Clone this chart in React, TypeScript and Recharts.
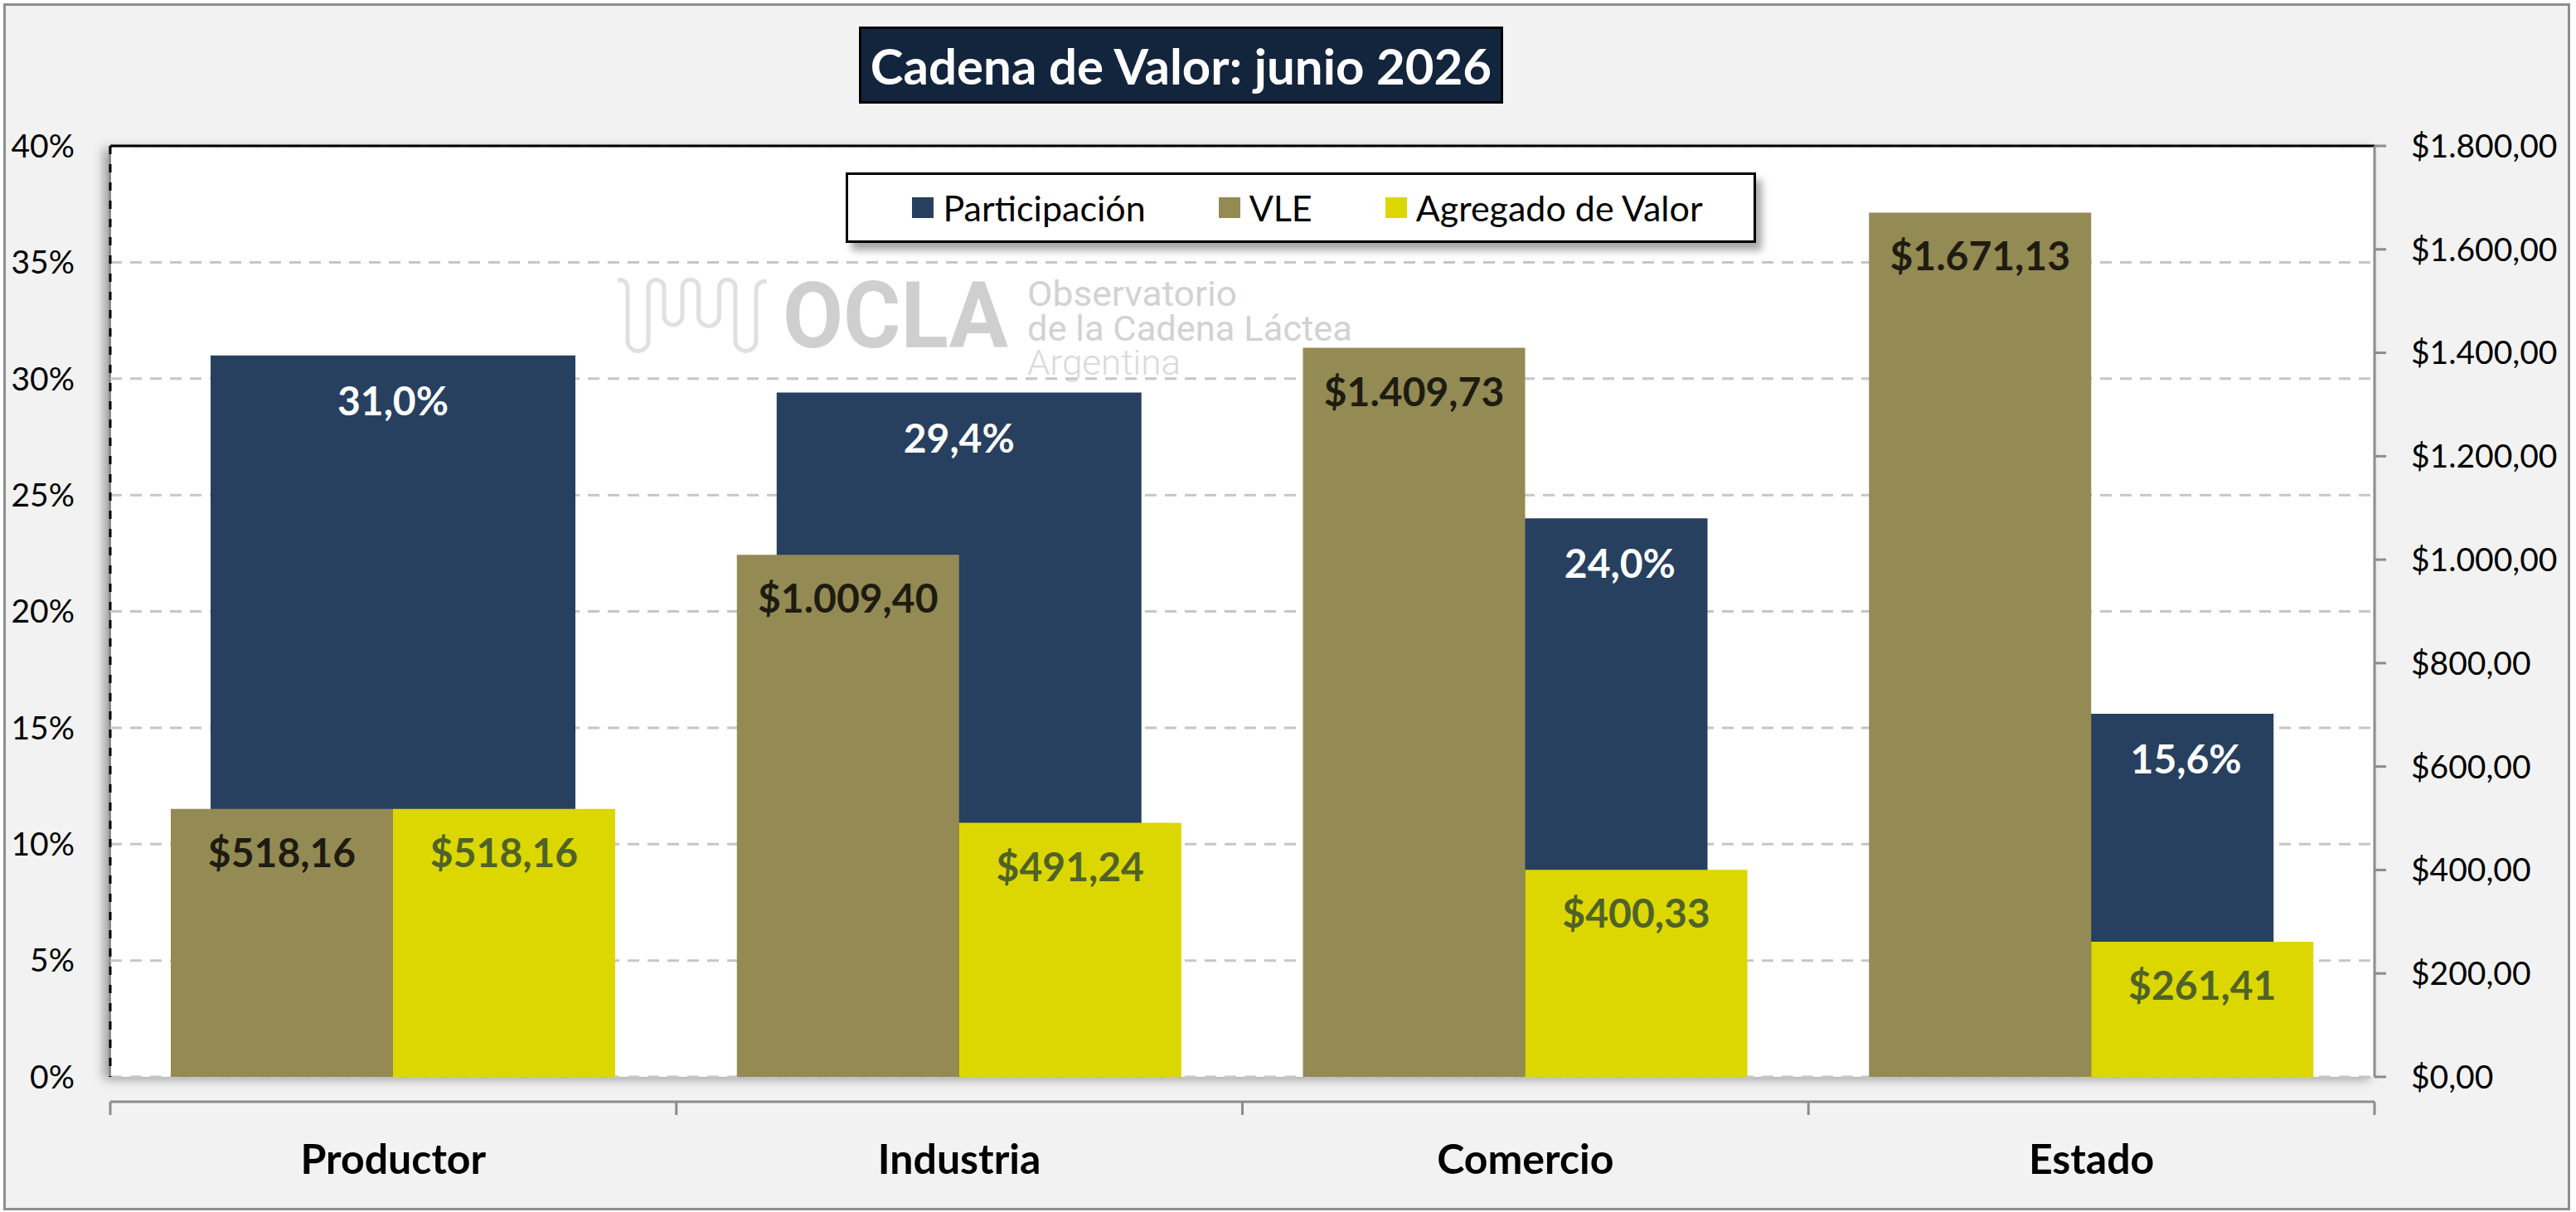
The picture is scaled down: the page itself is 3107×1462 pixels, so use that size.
import React from 'react';
import { BarChart, Bar, XAxis, YAxis, CartesianGrid, Legend, LabelList, ReferenceLine } from 'recharts';

// categories and series
const sectors = ['Productor', 'Industria', 'Comercio', 'Estado'];
const participacion = [31.0, 29.4, 24.0, 15.6]; // %
const vle = [518.16, 1009.4, 1409.73, 1671.13]; // $
const agregado = [518.16, 491.24, 400.33, 261.41]; // $

const seriesNames = ['Participación', 'VLE', 'Agregado de Valor'];
const pctTicks = [0, 5, 10, 15, 20, 25, 30, 35, 40];
const moneyTicks = [0, 200, 400, 600, 800, 1000, 1200, 1400, 1600, 1800];
const PCT_MAX = 40;
const MONEY_MAX = 1800;

const rows = sectors.map((sector, i) => ({
  sector,
  participacion: participacion[i],
  vle: vle[i],
  agregado: agregado[i],
}));

const W = 3107;
const H = 1462;
const LEFT_W = 133;
const RIGHT_W = 243;
const TOP = 176;
const X_H = 163;
const PLOT_W = W - LEFT_W - RIGHT_W;
const PLOT_H = H - TOP - X_H;

const FONT = 'Lato, "Open Sans", sans-serif';

const fmtMoney = (v: number) => {
  const [i, d] = v.toFixed(2).split('.');
  return '$' + i.replace(/\B(?=(\d{3})+(?!\d))/g, '.') + ',' + d;
};
const fmtPct = (v: number) => v.toFixed(1).replace('.', ',') + '%';

const CategoryTick = (props: any) => {
  const { x, y, payload, index } = props;
  const half = PLOT_W / sectors.length / 2;
  return (
    <g>
      <line x1={x - half} x2={x - half} y1={y} y2={y + 16} stroke="#8c8c8c" strokeWidth={3} />
      {index === sectors.length - 1 && (
        <line x1={x + half} x2={x + half} y1={y} y2={y + 16} stroke="#8c8c8c" strokeWidth={3} />
      )}
      <text x={x} y={y + 87} textAnchor="middle" fontFamily={FONT} fontWeight={700} fontSize={50} fill="#000">
        {payload.value}
      </text>
    </g>
  );
};

// share label: centred on the part of the bar that the VLE bar leaves visible
const ParticipacionLabel = (props: any) => {
  const { x, y, width, value } = props;
  const i = props.index ?? participacion.indexOf(Number(value));
  const covered = vle[i] / MONEY_MAX > participacion[i] / PCT_MAX - 0.08;
  const cx = covered ? x + width * 0.76 : x + width / 2;
  return (
    <text x={cx} y={y + 72} textAnchor="middle" fill="#fff" fontSize={48} fontWeight={700} fontFamily={FONT}>
      {fmtPct(Number(value))}
    </text>
  );
};

const LegendBox = ({ payload }: any) => {
  const items = [...(payload || [])].sort(
    (a: any, b: any) => seriesNames.indexOf(a.value) - seriesNames.indexOf(b.value)
  );
  return (
    <div
      style={{
        width: 1098,
        height: 85,
        boxSizing: 'border-box',
        border: '3px solid #000',
        background: '#fff',
        boxShadow: '7px 9px 9px rgba(0,0,0,0.35)',
        display: 'flex',
        alignItems: 'center',
        justifyContent: 'center',
        gap: 88,
        paddingLeft: 16,
        fontFamily: FONT,
        fontSize: 43,
        color: '#000',
      }}
    >
      {items.map((p: any) => (
        <div key={p.value} style={{ display: 'flex', alignItems: 'center', gap: 11 }}>
          <span style={{ width: 26, height: 25, background: p.color, display: 'inline-block' }} />
          <span>{p.value}</span>
        </div>
      ))}
    </div>
  );
};

export default function App() {
  return (
    <div style={{ position: 'relative', width: W, height: H, background: '#fff', fontFamily: FONT }}>
      <style>{'body{margin:0}'}</style>
      {/* outer frame */}
      <div
        style={{
          position: 'absolute',
          left: 4,
          top: 4,
          width: 3096,
          height: 1456,
          boxSizing: 'border-box',
          border: '3px solid #8e8e8e',
          background: '#f2f2f2',
        }}
      />
      {/* plot area background */}
      <div
        style={{
          position: 'absolute',
          left: LEFT_W - 2,
          top: TOP,
          width: PLOT_W + 2,
          height: PLOT_H,
          boxSizing: 'border-box',
          borderLeft: '3px solid #8c8c8c',
          background: '#fff',
          boxShadow: '-6px 3px 12px rgba(0,0,0,0.35)',
        }}
      />
      {/* watermark */}
      <svg width={W} height={H} style={{ position: 'absolute', left: 0, top: 0 }}>
        <path
          d="M 745 338 Q 757 336 757 350 L 757 411 A 12.5 12.5 0 0 0 782 411 L 782 347 A 9.5 9.5 0 0 1 801 347 L 801 381 A 11 11 0 0 0 823 381 L 823 347 A 9.75 9.75 0 0 1 842.5 347 L 842.5 381 A 12.5 12.5 0 0 0 867.5 381 L 867.5 347 A 9.75 9.75 0 0 1 887 347 L 887 411 A 12.5 12.5 0 0 0 912 411 L 912 352 Q 912 339 925 339"
          fill="none"
          stroke="#e0e0e0"
          strokeWidth={5}
        />
        <text x={944} y={419} fontFamily="Roboto, sans-serif" fontWeight={700} fontSize={111} fill="#cfcfcf" textLength={272} lengthAdjust="spacingAndGlyphs">
          OCLA
        </text>
        <text x={1239} y={369} fontFamily="Roboto, sans-serif" fontSize={42} fill="#d2d2d2" textLength={253} lengthAdjust="spacingAndGlyphs">
          Observatorio
        </text>
        <text x={1239} y={411} fontFamily="Roboto, sans-serif" fontSize={42} fill="#d2d2d2" textLength={392} lengthAdjust="spacingAndGlyphs">
          de la Cadena Láctea
        </text>
        <text x={1239} y={452} fontFamily="Roboto, sans-serif" fontWeight={300} fontSize={42} fill="#dadada" textLength={185} lengthAdjust="spacingAndGlyphs">
          Argentina
        </text>
      </svg>
      {/* title */}
      <div
        style={{
          position: 'absolute',
          left: 1036,
          top: 32,
          width: 777,
          height: 93,
          boxSizing: 'border-box',
          border: '3px solid #000',
          background: '#13243d',
          color: '#fff',
          fontFamily: FONT,
          fontWeight: 700,
          fontSize: 60,
          display: 'flex',
          alignItems: 'center',
          justifyContent: 'center',
          whiteSpace: 'nowrap',
        }}
      >
        Cadena de Valor: junio 2026
      </div>
      <div style={{ position: 'absolute', left: 0, top: 0 }}>
        <BarChart
          width={W}
          height={H}
          data={rows}
          margin={{ top: TOP, right: 0, bottom: 0, left: 0 }}
          barGap={0}
          barCategoryGap={0}
        >
          <CartesianGrid
            xAxisId="main"
            yAxisId="left"
            vertical={false}
            stroke="#c6c6c6"
            strokeDasharray="14 10"
            strokeWidth={3}
          />
          <XAxis
            xAxisId="main"
            dataKey="sector"
            height={X_H}
            interval={0}
            tickSize={0}
            tickMargin={0}
            tickLine={false}
            axisLine={{ stroke: '#8c8c8c', strokeWidth: 3 }}
            tick={<CategoryTick />}
          />
          <XAxis xAxisId="back" dataKey="sector" hide />
          <YAxis
            yAxisId="left"
            orientation="left"
            width={LEFT_W}
            domain={[0, PCT_MAX]}
            ticks={pctTicks}
            interval={0}
            tickFormatter={(v: number) => `${v}%`}
            tickSize={0}
            tickMargin={43}
            tickLine={false}
            axisLine={{ stroke: '#000', strokeWidth: 3, strokeDasharray: '10 12' }}
            tick={{ fill: '#000', fontSize: 39, fontFamily: FONT }}
          />
          <YAxis
            yAxisId="right"
            orientation="right"
            width={RIGHT_W}
            domain={[0, MONEY_MAX]}
            ticks={moneyTicks}
            interval={0}
            tickFormatter={fmtMoney}
            tickSize={14}
            tickMargin={30}
            tickLine={{ stroke: '#8c8c8c', strokeWidth: 3 }}
            axisLine={{ stroke: '#8c8c8c', strokeWidth: 3 }}
            tick={{ fill: '#000', fontSize: 39, fontFamily: FONT }}
          />
          <Bar
            xAxisId="back"
            yAxisId="left"
            dataKey="participacion"
            name="Participación"
            fill="#27405f"
            barSize={440}
            isAnimationActive={false}
          >
            <LabelList dataKey="participacion" content={<ParticipacionLabel />} />
          </Bar>
          <Bar
            xAxisId="main"
            yAxisId="right"
            dataKey="vle"
            name="VLE"
            fill="#948a54"
            barSize={268}
            isAnimationActive={false}
          >
            <LabelList
              dataKey="vle"
              position="insideTop"
              offset={36}
              formatter={(v: any) => fmtMoney(Number(v))}
              fill="#1e1c10"
              fontSize={48}
              fontWeight={700}
              fontFamily={FONT}
            />
          </Bar>
          <Bar
            xAxisId="main"
            yAxisId="right"
            dataKey="agregado"
            name="Agregado de Valor"
            fill="#dcd700"
            barSize={268}
            isAnimationActive={false}
          >
            <LabelList
              dataKey="agregado"
              position="insideTop"
              offset={36}
              formatter={(v: any) => fmtMoney(Number(v))}
              fill="#4f6228"
              fontSize={48}
              fontWeight={700}
              fontFamily={FONT}
            />
          </Bar>
          <ReferenceLine xAxisId="main" yAxisId="left" y={PCT_MAX} stroke="#000" strokeWidth={3} />
          <Legend
            layout="horizontal"
            verticalAlign="middle"
            align="center"
            content={<LegendBox />}
            wrapperStyle={{ top: 208, left: 1020, width: 1098, height: 85 }}
          />
        </BarChart>
      </div>
    </div>
  );
}
